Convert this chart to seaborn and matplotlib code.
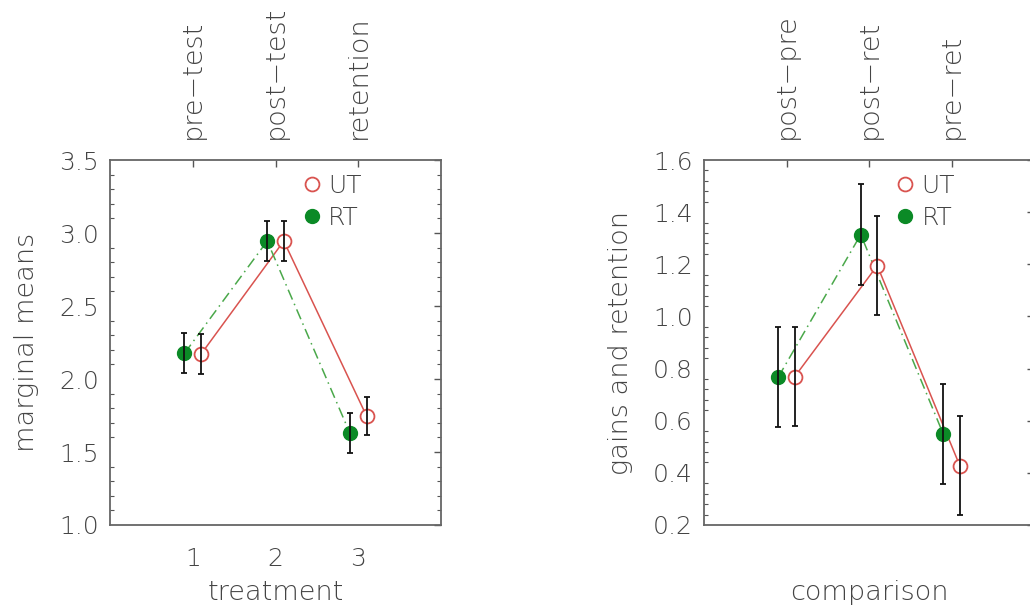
import numpy as np
import pandas as pd
import matplotlib
matplotlib.use("Agg")
import matplotlib.pyplot as plt
from matplotlib.lines import Line2D
from matplotlib.ticker import MultipleLocator
import seaborn as sns

# values
treatment = [1, 2, 3]
treatment_labels = ["pre\u2212test", "post\u2212test", "retention"]
comparison = [1, 2, 3]
comparison_labels = ["post\u2212pre", "post\u2212ret", "pre\u2212ret"]

ut_means = [2.17, 2.945, 1.747]
ut_err = [0.135, 0.137, 0.132]
rt_means = [2.176, 2.945, 1.628]
rt_err = [0.137, 0.137, 0.137]

ut_gains = [0.769, 1.195, 0.428]
ut_gains_err = [0.19, 0.19, 0.19]
rt_gains = [0.767, 1.314, 0.549]
rt_gains_err = [0.192, 0.193, 0.19]

groups = ["UT", "RT"]

sns.set_theme(style="white")
plt.rcParams["font.family"] = ["DejaVu Sans"]
plt.rcParams["font.weight"] = "light"
plt.rcParams["axes.labelweight"] = "light"
plt.rcParams["text.color"] = "#444444"
plt.rcParams["axes.labelcolor"] = "#444444"

RED = "#d9534f"
GREEN = "#0b8a26"
GREEN_LINE = "#4aa84a"
TXT = "#444444"
shift = {"UT": 0.1, "RT": -0.1}


def make_df(x, ut, ut_e, rt, rt_e):
    rows = []
    for g, m, e in (("UT", ut, ut_e), ("RT", rt, rt_e)):
        for xi, mi, ei in zip(x, m, e):
            rows.append({"group": g, "x": xi + shift[g], "mean": mi, "err": ei})
    return pd.DataFrame(rows)


def draw(ax, df, ylim, major, minor, xlabel, ylabel, top_labels, ticks, bottom_labels):
    sns.lineplot(data=df, x="x", y="mean", hue="group", style="group",
                 palette={"UT": RED, "RT": GREEN_LINE},
                 dashes={"UT": "", "RT": (7, 3, 1, 3)},
                 linewidth=1.1, sort=False, legend=False, ax=ax)
    rt = df[df.group == "RT"]
    ut = df[df.group == "UT"]
    ax.plot(rt.x, rt["mean"], "o", ms=10, mfc=GREEN, mec=GREEN, zorder=3)
    ax.plot(ut.x, ut["mean"], "o", ms=10, mfc="white", mec=RED, mew=1.3, zorder=3)
    ax.errorbar(df.x, df["mean"], yerr=df.err, fmt="none", ecolor="#111111",
                elinewidth=1.3, capsize=2.5, capthick=1.3, zorder=4)

    ax.set_xlim(0, 4)
    ax.set_ylim(*ylim)
    ax.set_xticks(ticks)
    ax.set_xticklabels(bottom_labels)
    ax.yaxis.set_major_locator(MultipleLocator(major))
    ax.yaxis.set_minor_locator(MultipleLocator(minor))
    ax.yaxis.set_major_formatter(matplotlib.ticker.FormatStrFormatter("%.1f"))
    ax.tick_params(axis="both", which="both", direction="in", top=True, right=True,
                   colors="#555555", labelcolor=TXT, labelsize=18)
    ax.tick_params(axis="both", which="major", length=5, width=1)
    ax.tick_params(axis="y", which="minor", length=3, width=0.8, left=True, right=True)
    ax.tick_params(axis="x", which="major", pad=16)
    ax.tick_params(axis="y", which="major", pad=8)
    for s in ax.spines.values():
        s.set_color("#666666")
        s.set_linewidth(1.3)

    sec = ax.secondary_xaxis("top")
    sec.set_xticks(ticks)
    sec.set_xticklabels(top_labels, rotation=90, fontsize=19.5, color=TXT)
    sec.tick_params(length=0, pad=15)
    sec.spines["top"].set_visible(False)

    ax.set_xlabel(xlabel, fontsize=19.5)
    ax.set_ylabel(ylabel, fontsize=19.5)
    ax.xaxis.set_label_coords(0.5, -0.15)
    ax.yaxis.set_label_coords(-0.215, 0.5)

    handles = [
        Line2D([], [], ls="none", marker="o", ms=10, mfc="white", mec=RED, mew=1.3),
        Line2D([], [], ls="none", marker="o", ms=10, mfc=GREEN, mec=GREEN),
    ]
    ax.legend(handles, groups, loc="upper left", bbox_to_anchor=(0.572, 0.963),
              frameon=False, fontsize=18, handlelength=1.0, handletextpad=0.15,
              labelspacing=0.32, borderpad=0, borderaxespad=0)


fig = plt.figure(figsize=(10.3, 6.1), dpi=100)
ax1 = fig.add_axes([110 / 1030, 85 / 610, 331 / 1030, 365 / 610])
ax2 = fig.add_axes([704 / 1030, 85 / 610, 330 / 1030, 365 / 610])

df1 = make_df(treatment, ut_means, ut_err, rt_means, rt_err)
df2 = make_df(comparison, ut_gains, ut_gains_err, rt_gains, rt_gains_err)

draw(ax1, df1, (1.0, 3.5), 0.5, 0.1, "treatment", "marginal means",
     treatment_labels, treatment, [str(t) for t in treatment])
draw(ax2, df2, (0.2, 1.6), 0.2, 0.04, "comparison", "gains and retention",
     comparison_labels, comparison, ["", "", ""])

fig.savefig("out.png", dpi=100)
